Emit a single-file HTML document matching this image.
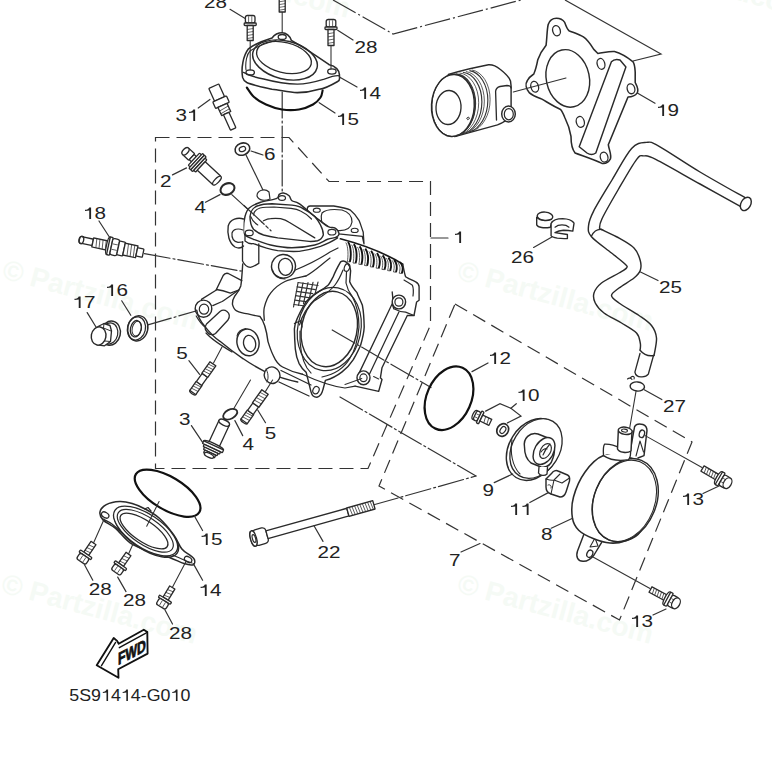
<!DOCTYPE html>
<html><head><meta charset="utf-8"><style>
html,body{margin:0;padding:0;background:#fff;width:772px;height:772px;overflow:hidden}
svg{display:block}
text{font-family:"Liberation Sans",sans-serif;font-size:17px;fill:#222}
</style></head><body>
<svg width="772" height="772" viewBox="0 0 772 772">
<g><text transform="translate(1,278) rotate(15)" style="font-size:28px;font-weight:bold;fill:#f5faf5">© Partzilla.com</text><text transform="translate(456,279) rotate(15)" style="font-size:28px;font-weight:bold;fill:#f5faf5">© Partzilla.com</text><text transform="translate(0,592) rotate(15)" style="font-size:28px;font-weight:bold;fill:#f5faf5">© Partzilla.com</text><text transform="translate(456,592) rotate(15)" style="font-size:28px;font-weight:bold;fill:#f5faf5">© Partzilla.com</text><text transform="translate(153,-34) rotate(15)" style="font-size:28px;font-weight:bold;fill:#f5faf5">© Partzilla.com</text><text transform="translate(610,-34) rotate(15)" style="font-size:28px;font-weight:bold;fill:#f5faf5">© Partzilla.com</text></g>
<path d="M155.5,137.5 L289,137.5 L329,181.5 L430.5,181.5 L430.5,325 L368,468.5 L155.5,468.5 Z" fill="none" stroke="#333" stroke-width="1.20" stroke-linejoin="miter" stroke-dasharray="14 7"/>
<path d="M455,304 L692,442 L619.5,620 L379,486 Z" fill="none" stroke="#333" stroke-width="1.20" stroke-linejoin="miter" stroke-dasharray="14 7"/>
<path d="M333,0 L393,34 L521,0" fill="none" stroke="#333" stroke-width="1.20" stroke-linejoin="miter" stroke-dasharray="26 3 2 3"/>
<path d="M565,0 L661,54 L633,61" fill="none" stroke="#333" stroke-width="1.20" stroke-linejoin="miter" />
<line x1="282.2" y1="12" x2="282.2" y2="37" stroke="#333" stroke-width="1.08" stroke-linecap="round" />
<line x1="282.2" y1="92" x2="282.2" y2="196" stroke="#333" stroke-width="1.20" stroke-linecap="round" stroke-dasharray="26 3 2 3"/>
<path d="M242.6,77.4 C241,68 243,56 248.5,48.8 C255,44 265,40 272,37.9 C275,34 278,32.8 282.2,32.8 C286,32.8 290,36 291.4,40.4 C305,48 318,57 329.3,64.8 C335,66 340,70 339.4,75.8 C340,79 339,81 337.7,81.5 C330,86 322,89 319.2,89.2 C310,92 303,92.6 297.3,92.6 C288,92 280,90 272,89.2 C262,87 252,85 246.8,82.5 C244,81 243,79 242.6,77.4 Z" fill="#fff" stroke="#2a2a2a" stroke-width="1.56" stroke-linejoin="round" stroke-linecap="round" />
<path d="M243.5,72.4 C250,76 258,78 263.7,79 C275,82 288,84 297.3,84.2 C308,84 318,81 324.3,79.1 C330,77 336,75 339.4,75.8" fill="none" stroke="#2a2a2a" stroke-width="1.32" stroke-linejoin="round" stroke-linecap="round" />
<path d="M246,70 C245,62 247,54 250,51 C256,47 266,43 276,40.5" fill="none" stroke="#2a2a2a" stroke-width="1.08" stroke-linejoin="round" stroke-linecap="round" />
<ellipse cx="285" cy="60" rx="33" ry="19" transform="rotate(14 285 60)" fill="none" stroke="#2a2a2a" stroke-width="1.44" />
<ellipse cx="284" cy="57.5" rx="28" ry="15" transform="rotate(14 284 57.5)" fill="none" stroke="#2a2a2a" stroke-width="1.32" />
<ellipse cx="250.2" cy="72.4" rx="4.2" ry="2.6" transform="rotate(0 250.2 72.4)" fill="none" stroke="#2a2a2a" stroke-width="1.32" />
<ellipse cx="331.9" cy="71.5" rx="4.2" ry="2.6" transform="rotate(0 331.9 71.5)" fill="none" stroke="#2a2a2a" stroke-width="1.32" />
<ellipse cx="282.2" cy="37" rx="4" ry="2.5" transform="rotate(0 282.2 37)" fill="none" stroke="#2a2a2a" stroke-width="1.32" />
<g transform="translate(250.2,15.5) rotate(90)" fill="#fff" stroke="#2a2a2a" stroke-width="1.32" stroke-linejoin="round"><rect x="0" y="-4.8" width="7.5" height="9.6" rx="2" ry="2"/><line x1="0.8" y1="-1.60" x2="6.7" y2="-1.60" stroke-width="0.7"/><line x1="0.8" y1="1.60" x2="6.7" y2="1.60" stroke-width="0.7"/><rect x="7.5" y="-6" width="2.5" height="12" rx="0.8"/><rect x="10.0" y="-3" width="15" height="6"/><line x1="13.0" y1="-3" x2="14.0" y2="3" stroke-width="0.7"/><line x1="16.0" y1="-3" x2="17.0" y2="3" stroke-width="0.7"/><line x1="19.0" y1="-3" x2="20.0" y2="3" stroke-width="0.7"/><line x1="22.0" y1="-3" x2="23.0" y2="3" stroke-width="0.7"/></g>
<line x1="250.2" y1="40.5" x2="250.2" y2="70" stroke="#333" stroke-width="1.08" stroke-linecap="round" />
<g transform="translate(331,19.5) rotate(90)" fill="#fff" stroke="#2a2a2a" stroke-width="1.32" stroke-linejoin="round"><rect x="0" y="-4.8" width="7.5" height="9.6" rx="2" ry="2"/><line x1="0.8" y1="-1.60" x2="6.7" y2="-1.60" stroke-width="0.7"/><line x1="0.8" y1="1.60" x2="6.7" y2="1.60" stroke-width="0.7"/><rect x="7.5" y="-6" width="2.5" height="12" rx="0.8"/><rect x="10.0" y="-3" width="16" height="6"/><line x1="13.2" y1="-3" x2="14.2" y2="3" stroke-width="0.7"/><line x1="16.4" y1="-3" x2="17.4" y2="3" stroke-width="0.7"/><line x1="19.6" y1="-3" x2="20.6" y2="3" stroke-width="0.7"/><line x1="22.8" y1="-3" x2="23.8" y2="3" stroke-width="0.7"/></g>
<line x1="331" y1="45.5" x2="331" y2="69" stroke="#333" stroke-width="1.08" stroke-linecap="round" />
<g transform="translate(282.2,-2) rotate(90)" fill="#fff" stroke="#2a2a2a" stroke-width="1.32" stroke-linejoin="round"><rect x="0" y="-3" width="14" height="6"/><line x1="2.8" y1="-3" x2="3.8" y2="3" stroke-width="0.7"/><line x1="5.6" y1="-3" x2="6.6" y2="3" stroke-width="0.7"/><line x1="8.4" y1="-3" x2="9.4" y2="3" stroke-width="0.7"/><line x1="11.2" y1="-3" x2="12.2" y2="3" stroke-width="0.7"/></g>
<path d="M246.80,87.50 C248.00,89.08 250.80,94.17 254.00,97.00 C257.20,99.83 261.33,102.42 266.00,104.50 C270.67,106.58 276.50,108.67 282.00,109.50 C287.50,110.33 293.83,110.33 299.00,109.50 C304.17,108.67 309.42,106.50 313.00,104.50 C316.58,102.50 318.90,99.83 320.50,97.50 C322.10,95.17 322.25,91.67 322.60,90.50" fill="none" stroke="#111" stroke-width="2.10" stroke-linejoin="round" stroke-linecap="round" />
<line x1="230" y1="9.3" x2="245.2" y2="18.5" stroke="#333" stroke-width="1.20" stroke-linecap="round" />
<line x1="337.7" y1="30.3" x2="353" y2="40" stroke="#333" stroke-width="1.20" stroke-linecap="round" />
<line x1="339.4" y1="77" x2="357" y2="87" stroke="#333" stroke-width="1.20" stroke-linecap="round" />
<line x1="319.2" y1="102.7" x2="335" y2="113" stroke="#333" stroke-width="1.20" stroke-linecap="round" />
<g transform="translate(213.8,86.2) rotate(65.6)" fill="#fff" stroke="#2a2a2a" stroke-width="1.32" stroke-linejoin="round"><rect x="0" y="-5.5" width="14" height="11.0" rx="0.8"/><rect x="14" y="-7.5" width="7" height="15.0" rx="0.8"/><rect x="21" y="-5" width="9" height="10"/><line x1="24.0" y1="-5" x2="25.0" y2="5" stroke-width="0.7"/><line x1="27.0" y1="-5" x2="28.0" y2="5" stroke-width="0.7"/><rect x="30" y="-3" width="17" height="6" rx="0.8"/></g>
<line x1="198.2" y1="108" x2="209.9" y2="99.4" stroke="#333" stroke-width="1.20" stroke-linecap="round" />
<g transform="translate(185.5,151.3) rotate(43)" fill="#fff" stroke="#2a2a2a" stroke-width="1.32" stroke-linejoin="round"><rect x="0" y="-4.4" width="8.5" height="8.8" rx="0.8"/><rect x="8.5" y="-3.6" width="3" height="7.2" rx="0.8"/><rect x="11.5" y="-8.3" width="2.5" height="16.6" rx="0.8"/><rect x="14.0" y="-10" width="2.5" height="20" rx="0.8"/><rect x="16.5" y="-10" width="2.5" height="20" rx="0.8"/><rect x="19.0" y="-8.3" width="2.5" height="16.6" rx="0.8"/><rect x="21.5" y="-5.8" width="21.5" height="11.6" rx="0.8"/><ellipse cx="43.0" cy="0" rx="2.2" ry="5.8"/></g>
<ellipse cx="185.5" cy="151.3" rx="2.6" ry="4.4" transform="rotate(43 185.5 151.3)" fill="#fff" stroke="#2a2a2a" stroke-width="1.32" />
<line x1="172.5" y1="174.9" x2="186.5" y2="167.9" stroke="#333" stroke-width="1.20" stroke-linecap="round" />
<ellipse cx="242.4" cy="149.1" rx="7.5" ry="6" transform="rotate(-20 242.4 149.1)" fill="none" stroke="#2a2a2a" stroke-width="1.56" />
<ellipse cx="242.4" cy="149.1" rx="3.3" ry="2.4" transform="rotate(-20 242.4 149.1)" fill="none" stroke="#2a2a2a" stroke-width="1.20" />
<line x1="251" y1="151" x2="263" y2="155" stroke="#333" stroke-width="1.20" stroke-linecap="round" />
<line x1="246" y1="155" x2="263.8" y2="191.7" stroke="#333" stroke-width="1.20" stroke-linecap="round" />
<ellipse cx="227.5" cy="189" rx="7.3" ry="5.5" transform="rotate(-25 227.5 189)" fill="none" stroke="#2a2a2a" stroke-width="2.04" />
<line x1="205.5" y1="202.3" x2="220" y2="194.6" stroke="#333" stroke-width="1.20" stroke-linecap="round" />
<line x1="231.8" y1="194.6" x2="262" y2="222.2" stroke="#333" stroke-width="1.20" stroke-linecap="round" />
<line x1="144.4" y1="253.6" x2="242.5" y2="271.3" stroke="#333" stroke-width="1.20" stroke-linecap="round" stroke-dasharray="26 3 2 3"/>
<g transform="translate(81.5,240) rotate(12.1)" fill="#fff" stroke="#2a2a2a" stroke-width="1.32" stroke-linejoin="round"><ellipse cx="0" cy="0" rx="2.5" ry="3.6"/><rect x="0" y="-3.3" width="11.5" height="6.6" rx="0.8"/><rect x="11.5" y="-4.6" width="16" height="9.2"/><line x1="14.7" y1="-4.6" x2="15.7" y2="4.6" stroke-width="0.7"/><line x1="17.9" y1="-4.6" x2="18.9" y2="4.6" stroke-width="0.7"/><line x1="21.1" y1="-4.6" x2="22.1" y2="4.6" stroke-width="0.7"/><line x1="24.3" y1="-4.6" x2="25.3" y2="4.6" stroke-width="0.7"/><ellipse cx="27.5" cy="0" rx="2" ry="9"/><rect x="27.5" y="-9" width="3" height="18" rx="0.8"/><rect x="30.5" y="-8.3" width="7" height="16.6" rx="2" ry="2"/><line x1="31.3" y1="-2.77" x2="36.7" y2="-2.77" stroke-width="0.7"/><line x1="31.3" y1="2.77" x2="36.7" y2="2.77" stroke-width="0.7"/><rect x="37.5" y="-7" width="6" height="14" rx="0.8"/><rect x="43.5" y="-6" width="13" height="12"/><line x1="46.8" y1="-6" x2="47.8" y2="6" stroke-width="0.7"/><line x1="50.0" y1="-6" x2="51.0" y2="6" stroke-width="0.7"/><line x1="53.2" y1="-6" x2="54.2" y2="6" stroke-width="0.7"/><rect x="56.5" y="-4.2" width="6.5" height="8.4" rx="0.8"/></g>
<ellipse cx="81.5" cy="240" rx="2.2" ry="3.6" transform="rotate(12.1 81.5 240)" fill="#fff" stroke="#2a2a2a" stroke-width="1.32" />
<line x1="99" y1="221" x2="110" y2="238" stroke="#333" stroke-width="1.20" stroke-linecap="round" />
<line x1="146.2" y1="325.3" x2="203" y2="309" stroke="#333" stroke-width="1.20" stroke-linecap="round" stroke-dasharray="26 3 2 3"/>
<ellipse cx="137.8" cy="328.3" rx="10" ry="12.7" transform="rotate(12 137.8 328.3)" fill="#fff" stroke="#2a2a2a" stroke-width="1.44" />
<ellipse cx="136.4" cy="328.4" rx="9" ry="11.7" transform="rotate(12 136.4 328.4)" fill="none" stroke="#2a2a2a" stroke-width="1.20" />
<ellipse cx="135.8" cy="328.7" rx="5.3" ry="8.3" transform="rotate(12 135.8 328.7)" fill="none" stroke="#2a2a2a" stroke-width="1.32" />
<ellipse cx="136.8" cy="328.7" rx="4.6" ry="7.5" transform="rotate(12 136.8 328.7)" fill="none" stroke="#2a2a2a" stroke-width="0.96" />
<line x1="121.7" y1="300.8" x2="130.8" y2="315.3" stroke="#333" stroke-width="1.20" stroke-linecap="round" />
<ellipse cx="110.5" cy="333.2" rx="9.8" ry="12.2" transform="rotate(12 110.5 333.2)" fill="#fff" stroke="#2a2a2a" stroke-width="1.44" />
<ellipse cx="109.5" cy="333.5" rx="8.3" ry="10.6" transform="rotate(12 109.5 333.5)" fill="none" stroke="#2a2a2a" stroke-width="1.20" />
<path d="M98,326.5 L104,323.5 L110,325.5 L111.5,331 L110.5,341.5 L104.5,345.8 L99,345" fill="#fff" stroke="#2a2a2a" stroke-width="1.32" stroke-linejoin="round" stroke-linecap="round" />
<path d="M104,323.5 L103.5,328 M110.5,341.5 L104.5,341 L103.5,328 L111,331" fill="none" stroke="#2a2a2a" stroke-width="0.96" stroke-linejoin="round" stroke-linecap="round" />
<ellipse cx="98.6" cy="336" rx="7.3" ry="9.2" transform="rotate(10 98.6 336)" fill="#fff" stroke="#2a2a2a" stroke-width="1.44" />
<line x1="87.2" y1="312.6" x2="96" y2="327" stroke="#333" stroke-width="1.20" stroke-linecap="round" />
<path d="M243,237 L242.7,267 C240,280 236,292 233.6,303.5 L196.7,310 C198,320 201,324 204.4,325.8 C215,338 235,354 266.6,372.4 C290,380 300,384 306,384 L309,390 C311,395 318,396 322,392 L326,384 C345,380 356,375 362,384 L381,386 L406,316 L419.6,307.9 L417.9,282.6 L404.4,274.2 L402.7,264.1 L364,243.9 L363.2,232.1 L359,220.3 L350.5,210.2 L333.7,206 L310.1,206 L291,199.4 C286,194 278,194 275.5,198 L244.25,215.5 Z" fill="#fff" stroke="none" stroke-width="0.00" stroke-linejoin="round" stroke-linecap="round" />
<path d="M310.1,206 C307,206 306,210 309,213 L338.7,233.8 L362.3,236.3 L364,243.9 M310.1,206 L333.7,206 C340,207 346,208 350.5,210.2 C354,213 357,217 359,220.3 C361,225 362,229 363.2,232.1 L364,243.9" fill="#fff" stroke="#2a2a2a" stroke-width="1.32" stroke-linejoin="round" stroke-linecap="round" />
<path d="M322,213 C326,209 334,209 342,210 C349,212 352,217 352,222 C351,228 346,231 338,230.5 C330,230 323,227 321.5,221 C321,218 321,215 322,213 Z" fill="none" stroke="#2a2a2a" stroke-width="1.20" stroke-linejoin="round" stroke-linecap="round" />
<ellipse cx="316.8" cy="210.2" rx="3.5" ry="2.1" transform="rotate(0 316.8 210.2)" fill="none" stroke="#2a2a2a" stroke-width="1.08" />
<ellipse cx="354.7" cy="230.4" rx="3.5" ry="2.1" transform="rotate(0 354.7 230.4)" fill="none" stroke="#2a2a2a" stroke-width="1.08" />
<path d="M340.4,238.8 C360,244 385,253 402.7,264.1" fill="none" stroke="#1a1a1a" stroke-width="1.68" stroke-linejoin="round" stroke-linecap="round" />
<path d="M348.0,242.0 C351.2,246.0 351.4,257.0 349.8,262.0" fill="none" stroke="#111" stroke-width="1.9"/>
<path d="M345.8,242.5 C348.3,246.0 348.5,257.0 347.2,261.7 L349.8,262.0" fill="none" stroke="#333" stroke-width="0.8"/>
<path d="M353.8,244.2 C357.0,248.2 357.2,258.3 355.6,263.3" fill="none" stroke="#111" stroke-width="1.9"/>
<path d="M351.6,244.7 C354.1,248.2 354.3,258.3 353.0,263.0 L355.6,263.3" fill="none" stroke="#333" stroke-width="0.8"/>
<path d="M359.6,246.4 C362.8,250.4 363.0,259.6 361.4,264.6" fill="none" stroke="#111" stroke-width="1.9"/>
<path d="M357.4,246.9 C359.9,250.4 360.1,259.6 358.8,264.3 L361.4,264.6" fill="none" stroke="#333" stroke-width="0.8"/>
<path d="M365.3,248.7 C368.5,252.7 368.7,260.8 367.1,265.8" fill="none" stroke="#111" stroke-width="1.9"/>
<path d="M363.1,249.2 C365.6,252.7 365.8,260.8 364.5,265.5 L367.1,265.8" fill="none" stroke="#333" stroke-width="0.8"/>
<path d="M371.1,250.9 C374.3,254.9 374.5,262.1 372.9,267.1" fill="none" stroke="#111" stroke-width="1.9"/>
<path d="M368.9,251.4 C371.4,254.9 371.6,262.1 370.3,266.8 L372.9,267.1" fill="none" stroke="#333" stroke-width="0.8"/>
<path d="M376.9,253.1 C380.1,257.1 380.3,263.4 378.7,268.4" fill="none" stroke="#111" stroke-width="1.9"/>
<path d="M374.7,253.6 C377.2,257.1 377.4,263.4 376.1,268.1 L378.7,268.4" fill="none" stroke="#333" stroke-width="0.8"/>
<path d="M382.7,255.3 C385.9,259.3 386.1,264.7 384.5,269.7" fill="none" stroke="#111" stroke-width="1.9"/>
<path d="M380.5,255.8 C383.0,259.3 383.2,264.7 381.9,269.4 L384.5,269.7" fill="none" stroke="#333" stroke-width="0.8"/>
<path d="M388.4,257.6 C391.6,261.6 391.8,265.9 390.2,270.9" fill="none" stroke="#111" stroke-width="1.9"/>
<path d="M386.2,258.1 C388.7,261.6 388.9,265.9 387.6,270.6 L390.2,270.9" fill="none" stroke="#333" stroke-width="0.8"/>
<path d="M394.2,259.8 C397.4,263.8 397.6,267.2 396.0,272.2" fill="none" stroke="#111" stroke-width="1.9"/>
<path d="M392.0,260.3 C394.5,263.8 394.7,267.2 393.4,271.9 L396.0,272.2" fill="none" stroke="#333" stroke-width="0.8"/>
<path d="M400.0,262.0 C403.2,266.0 403.4,268.5 401.8,273.5" fill="none" stroke="#111" stroke-width="1.9"/>
<path d="M397.8,262.5 C400.3,266.0 400.5,268.5 399.2,273.2 L401.8,273.5" fill="none" stroke="#333" stroke-width="0.8"/>
<path d="M245,235 L245,241 C250,245 252,243.6 253.5,243.6 C262,247 270,249.5 277.7,250.7 C285,251.5 292,251.6 299.1,251.4 C306,250.5 314,248.5 320.5,246.4 C328,243.5 333,241 337.6,237.9 L336.2,237.2" fill="#fff" stroke="#2a2a2a" stroke-width="1.32" stroke-linejoin="round" stroke-linecap="round" />
<path d="M276.30,198.70 C279.40,197.40 278.02,195.35 279.20,194.40 C280.38,193.45 281.75,192.77 283.40,193.00 C285.05,193.23 287.67,194.50 289.10,195.80 C290.53,197.10 290.33,199.48 292.00,200.80 C293.67,202.12 295.30,201.08 299.10,203.70 C302.90,206.32 310.05,212.70 314.80,216.50 C319.55,220.30 324.28,224.60 327.60,226.50 C330.92,228.40 332.80,226.72 334.70,227.90 C336.60,229.08 338.75,232.05 339.00,233.60 C339.25,235.15 338.10,236.25 336.20,237.20 C334.30,238.15 331.17,238.00 327.60,239.30 C324.03,240.60 320.73,243.58 314.80,245.00 C308.87,246.42 299.37,247.80 292.00,247.80 C284.63,247.80 277.02,246.42 270.60,245.00 C264.18,243.58 257.77,240.97 253.50,239.30 C249.23,237.63 246.67,236.67 245.00,235.00 C243.33,233.33 243.50,232.38 243.50,229.30 C243.50,226.22 244.05,220.05 245.00,216.50 C245.95,212.95 246.60,210.38 249.20,208.00 C251.80,205.62 256.08,203.75 260.60,202.20 C265.12,200.65 273.20,200.00 276.30,198.70 Z" fill="#fff" stroke="#2a2a2a" stroke-width="1.44" stroke-linejoin="round" stroke-linecap="round" />
<path d="M250,216.5 C250.5,211 254,207 257.8,205.8 C262,204 267,203.7 272,203.7 L292,205.1 C297,205.8 300,206.5 302,208 C307,210.5 311,213 314.8,216.5 C317,219 319,222 320.5,225 C322,228 323.5,232 323.3,235 C322,238.5 320,240 317.6,240.7 C315,241.3 312,241.5 309.1,241.4 L277.7,237.9 C273,237 268,236 263.5,235 C259,233.5 256,231.5 253.5,229.3 C251,226 250,221 250,216.5 Z" fill="none" stroke="#2a2a2a" stroke-width="1.44" stroke-linejoin="round" stroke-linecap="round" />
<path d="M253.5,215 C254,211.5 256.5,209 260,208 C265,207 270,207 274,207 L291,208.3 C295,208.8 298,209.5 300.5,211 C305,213 308.5,216 311.5,219" fill="none" stroke="#2a2a2a" stroke-width="1.20" stroke-linejoin="round" stroke-linecap="round" />
<path d="M263.5,220.8 C266,219.5 268,218.6 270.6,218.6 C274,218.4 277,218.4 280.6,218.6 C284,219.5 286.5,220.5 289.1,222.2 L314.8,237.9" fill="none" stroke="#2a2a2a" stroke-width="1.26" stroke-linejoin="round" stroke-linecap="round" />
<path d="M250.7,216.5 C252,220 254.5,223 257.8,225" fill="none" stroke="#2a2a2a" stroke-width="1.08" stroke-linejoin="round" stroke-linecap="round" />
<ellipse cx="249.2" cy="232.9" rx="4" ry="2.8" transform="rotate(0 249.2 232.9)" fill="none" stroke="#2a2a2a" stroke-width="1.20" />
<ellipse cx="331.9" cy="232.2" rx="4" ry="2.8" transform="rotate(0 331.9 232.2)" fill="none" stroke="#2a2a2a" stroke-width="1.20" />
<ellipse cx="282" cy="198" rx="3.5" ry="2.4" transform="rotate(0 282 198)" fill="none" stroke="#2a2a2a" stroke-width="1.20" />
<path d="M243.5,219 C238,217 230,219 228.2,226 C227,234 229,243 235,247 C238,248.5 241.5,248 243.5,246" fill="#fff" stroke="#2a2a2a" stroke-width="1.38" stroke-linejoin="round" stroke-linecap="round" />
<path d="M243,230 C238,228 233,229 232,233 C231.5,238 234,241.5 238,242.4 L243,242" fill="none" stroke="#2a2a2a" stroke-width="1.20" stroke-linejoin="round" stroke-linecap="round" />
<path d="M257,196 C257,190 265,188 269,192 L270,199 C265,201 259,201 257,196 Z" fill="#fff" stroke="#2a2a2a" stroke-width="1.20" stroke-linejoin="round" stroke-linecap="round" />
<path d="M242.5,241.7 L242.5,261 C244,264 247,267.3 250.3,267.3 C253,267 256,265 258.8,263.4 L258.8,244" fill="none" stroke="#2a2a2a" stroke-width="1.32" stroke-linejoin="round" stroke-linecap="round" />
<path d="M242.7,264 C242.2,272 241.8,280 240.8,285.9 C239,291 236.5,294 234.6,296.3 C232.8,299 232.3,302 232.5,304.6 C233.5,308 235,310 236.6,310.8 C240,312.5 244,313.3 248,313.9 C252,315 257,316 260,316.5 C263,320 266,326 268,341.6 C270,348 272,353 273.5,356 C276,362 279,365 282.6,367 C290,371 296,373 302.5,374.2" fill="none" stroke="#2a2a2a" stroke-width="1.38" stroke-linejoin="round" stroke-linecap="round" />
<path d="M306.00,276.00 C302.50,276.92 290.87,278.70 285.00,281.50 C279.13,284.30 274.25,288.48 270.80,292.80 C267.35,297.12 265.38,302.82 264.30,307.40 C263.22,311.98 264.30,318.15 264.30,320.30" fill="none" stroke="#2a2a2a" stroke-width="1.32" stroke-linejoin="round" stroke-linecap="round" />
<path d="M259,245.4 C265,249 280,252 300,253" fill="none" stroke="#2a2a2a" stroke-width="0.00" stroke-linejoin="round" stroke-linecap="round" />
<ellipse cx="283.5" cy="266.3" rx="12" ry="11.8" transform="rotate(-5 283.5 266.3)" fill="#fff" stroke="#2a2a2a" stroke-width="1.44" />
<ellipse cx="285.5" cy="266.8" rx="7" ry="8.5" transform="rotate(-5 285.5 266.8)" fill="none" stroke="#2a2a2a" stroke-width="1.32" />
<path d="M272.5,270 C274,276 279,279 285,279" fill="none" stroke="#2a2a2a" stroke-width="1.08" stroke-linejoin="round" stroke-linecap="round" />
<path d="M295.3,270 C305,266 318,260 330,252 L338,248" fill="none" stroke="#2a2a2a" stroke-width="1.20" stroke-linejoin="round" stroke-linecap="round" />
<path d="M306,276 C315,271 322,264 330,258" fill="none" stroke="#2a2a2a" stroke-width="1.20" stroke-linejoin="round" stroke-linecap="round" />
<line x1="298.0" y1="283.0" x2="293.5" y2="307.0" stroke="#333" stroke-width="1.20" stroke-linecap="round" />
<line x1="303.0" y1="282.8" x2="298.5" y2="305.3" stroke="#333" stroke-width="1.20" stroke-linecap="round" />
<line x1="308.0" y1="282.6" x2="303.5" y2="303.6" stroke="#333" stroke-width="1.20" stroke-linecap="round" />
<line x1="313.0" y1="282.4" x2="308.5" y2="301.9" stroke="#333" stroke-width="1.20" stroke-linecap="round" />
<line x1="318.0" y1="282.2" x2="313.5" y2="300.2" stroke="#333" stroke-width="1.20" stroke-linecap="round" />
<line x1="298.0" y1="282.5" x2="318.0" y2="285.5" stroke="#333" stroke-width="1.20" stroke-linecap="round" />
<line x1="297.2" y1="286.9" x2="315.4" y2="289.59999999999997" stroke="#333" stroke-width="1.20" stroke-linecap="round" />
<line x1="296.4" y1="291.3" x2="312.79999999999995" y2="293.7" stroke="#333" stroke-width="1.20" stroke-linecap="round" />
<line x1="295.6" y1="295.7" x2="310.20000000000005" y2="297.8" stroke="#333" stroke-width="1.20" stroke-linecap="round" />
<line x1="294.8" y1="300.1" x2="307.6" y2="301.90000000000003" stroke="#333" stroke-width="1.20" stroke-linecap="round" />
<line x1="294.0" y1="304.5" x2="305.0" y2="306.0" stroke="#333" stroke-width="1.20" stroke-linecap="round" />
<path d="M216.4,289.5 L223.2,275.5 C224.5,273.5 226.5,273 228.3,273.5 L241.8,280.7" fill="none" stroke="#2a2a2a" stroke-width="1.38" stroke-linejoin="round" stroke-linecap="round" />
<path d="M216.4,289.5 C221,290 226,291.5 230.4,293.2 L238.7,290" fill="none" stroke="#2a2a2a" stroke-width="1.32" stroke-linejoin="round" stroke-linecap="round" />
<path d="M201.4,299.4 L216.4,290 M212.8,305.6 L222.1,301.5 C226,299 230,296 238.7,290" fill="none" stroke="#2a2a2a" stroke-width="1.32" stroke-linejoin="round" stroke-linecap="round" />
<ellipse cx="203.5" cy="308.7" rx="8.3" ry="8.6" transform="rotate(0 203.5 308.7)" fill="#fff" stroke="#2a2a2a" stroke-width="1.44" />
<ellipse cx="204" cy="309.2" rx="4.7" ry="5" transform="rotate(0 204 309.2)" fill="none" stroke="#2a2a2a" stroke-width="1.20" />
<path d="M207.6,332.5 C205,330 204.5,327 206.5,324 L220,311.5 C222,310 225,310 227,311.5 C229.5,313.5 229.8,317 228,320 L215.5,333.5 C213,335.5 209.5,335 207.6,332.5 Z" fill="#fff" stroke="#2a2a2a" stroke-width="1.32" stroke-linejoin="round" stroke-linecap="round" />
<path d="M196.2,316 C199,321 202,325 205.5,327.4" fill="none" stroke="#2a2a2a" stroke-width="1.20" stroke-linejoin="round" stroke-linecap="round" />
<path d="M196.7,310.2 C198,318 201,322 204.4,325.8 C210,333 215,338 220,341.3 C228,348 236,354 243.3,358.8 C252,365 260,369 266.6,372.4 C278,377 288,380 297.7,382" fill="none" stroke="#2a2a2a" stroke-width="1.38" stroke-linejoin="round" stroke-linecap="round" />
<path d="M206,333 C212,340 222,346 232,352" fill="none" stroke="#2a2a2a" stroke-width="1.20" stroke-linejoin="round" stroke-linecap="round" />
<ellipse cx="248" cy="342.4" rx="11" ry="13.5" transform="rotate(-12 248 342.4)" fill="#fff" stroke="#2a2a2a" stroke-width="1.44" />
<ellipse cx="249.6" cy="343.5" rx="6" ry="8.2" transform="rotate(-12 249.6 343.5)" fill="none" stroke="#2a2a2a" stroke-width="1.32" />
<path d="M237,336 C238,331 242,329 246,328.5" fill="none" stroke="#2a2a2a" stroke-width="1.08" stroke-linejoin="round" stroke-linecap="round" />
<path d="M340.6,261.8 C337,268 335,272 333.4,276.3 C331,281 330,283 328,285.3 C324,289 320,291 317,292.6 C312,296 309,298 306.2,301.7 C301,310 298,316 295.3,323.4 L294.4,328.9 C294.5,336 294.8,342 295.3,348.8 C296,355 297,359 299,363.3 C301,367 303,370 306.2,372.4 L311,391.8 C312,395.5 314.5,397.3 317,397.2 C320,396.8 322,393.5 322.9,389.7 L325.4,380.4 C338,377 348,368 353.3,359.7 C357,353 359,349 360.6,345.2 C363,337 364,332 364.2,327 C364,318 363.5,311 362.4,305.3 C360,299 358,296 357,292.6 C353,288 351,285 349.7,281.7 L350.6,270.8 C350,264 345,259 340.6,261.8 Z" fill="#fff" stroke="#2a2a2a" stroke-width="1.44" stroke-linejoin="round" stroke-linecap="round" />
<path d="M343,270 C341,275 338,281 335,285 C330,292 322,296 314,301 C306,308 302,316 299.5,325 M300,331 C299.5,345 301,358 307,368 L311,373 M322,377 C336,374 345,367 350,358 C356,349 358,338 359,327 C359,315 357,305 352,296 C349,292 347,288 346,283 L346.5,272" fill="none" stroke="#2a2a2a" stroke-width="1.20" stroke-linejoin="round" stroke-linecap="round" />
<ellipse cx="347" cy="267.5" rx="2.6" ry="4" transform="rotate(20 347 267.5)" fill="none" stroke="#2a2a2a" stroke-width="1.20" />
<ellipse cx="316" cy="390.2" rx="3.0" ry="3.8" transform="rotate(25 316 390.2)" fill="none" stroke="#2a2a2a" stroke-width="1.20" />
<ellipse cx="329.3" cy="329" rx="27.7" ry="38" transform="rotate(12 329.3 329)" fill="none" stroke="#2a2a2a" stroke-width="1.44" />
<ellipse cx="329.3" cy="329" rx="31.5" ry="42" transform="rotate(12 329.3 329)" fill="none" stroke="#2a2a2a" stroke-width="1.20" />
<path d="M294.4,323.5 L301,320.5 L302,327" fill="none" stroke="#2a2a2a" stroke-width="1.20" stroke-linejoin="round" stroke-linecap="round" />
<path d="M402.7,264.1 C404,270 404.5,274 405.6,276.7 C409,279 413,280.5 415.7,281.8 C418,283 419.1,285 419.1,286.8 L419.1,300.3 L416.6,302 L414,315.5 L407.3,315.5 L382,367.7 L380.4,377.8 L382,379.5 L378.7,391.3 L355.1,386.2" fill="none" stroke="#2a2a2a" stroke-width="1.38" stroke-linejoin="round" stroke-linecap="round" />
<path d="M404,280.1 C407,282 410,283.5 412.4,285.2 C413.5,288 413.5,292 413,296" fill="none" stroke="#2a2a2a" stroke-width="1.20" stroke-linejoin="round" stroke-linecap="round" />
<path d="M392.2,291.9 L393.8,308.7 L392.2,303.7 L358.5,374.4" fill="none" stroke="#2a2a2a" stroke-width="1.32" stroke-linejoin="round" stroke-linecap="round" />
<path d="M393.8,308.7 C398,311 402,312 405.6,312.1 L414,315.5" fill="none" stroke="#2a2a2a" stroke-width="1.20" stroke-linejoin="round" stroke-linecap="round" />
<path d="M398.9,312.1 L366.9,379.5" fill="none" stroke="#2a2a2a" stroke-width="1.26" stroke-linejoin="round" stroke-linecap="round" />
<ellipse cx="398.9" cy="302" rx="6.7" ry="6.9" transform="rotate(0 398.9 302)" fill="#fff" stroke="#2a2a2a" stroke-width="1.44" />
<ellipse cx="398.9" cy="302" rx="4" ry="4.2" transform="rotate(0 398.9 302)" fill="none" stroke="#2a2a2a" stroke-width="1.20" />
<ellipse cx="363.5" cy="377.8" rx="6.5" ry="6.9" transform="rotate(0 363.5 377.8)" fill="#fff" stroke="#2a2a2a" stroke-width="1.44" />
<ellipse cx="363.5" cy="377.8" rx="3.6" ry="3.9" transform="rotate(0 363.5 377.8)" fill="none" stroke="#2a2a2a" stroke-width="1.20" />
<line x1="361.8" y1="378.6" x2="345" y2="384.5" stroke="#333" stroke-width="1.08" stroke-linecap="round" />
<line x1="373.6" y1="376.5" x2="378.7" y2="379.0" stroke="#333" stroke-width="1.08" stroke-linecap="round" />
<path d="M302.5,374.2 C315,380 330,386 345,388 L355.1,386.2" fill="none" stroke="#2a2a2a" stroke-width="1.20" stroke-linejoin="round" stroke-linecap="round" />
<path d="M281,370.5 L311,385 M279,382 L309,396" fill="none" stroke="#2a2a2a" stroke-width="1.26" stroke-linejoin="round" stroke-linecap="round" />
<ellipse cx="272.1" cy="375.2" rx="7.8" ry="8.3" transform="rotate(-20 272.1 375.2)" fill="#fff" stroke="#2a2a2a" stroke-width="1.38" />
<path d="M266,369 C268,372 269,378 267,382" fill="none" stroke="#2a2a2a" stroke-width="0.96" stroke-linejoin="round" stroke-linecap="round" />
<line x1="332.2" y1="330" x2="431" y2="387.5" stroke="#333" stroke-width="1.20" stroke-linecap="round" stroke-dasharray="26 3 2 3"/>
<line x1="340" y1="397" x2="476" y2="476" stroke="#333" stroke-width="1.20" stroke-linecap="round" stroke-dasharray="26 3 2 3"/>
<line x1="244" y1="205.5" x2="262" y2="222.2" stroke="#333" stroke-width="1.20" stroke-linecap="round" />
<line x1="262" y1="222.2" x2="271" y2="230.8" stroke="#333" stroke-width="1.20" stroke-linecap="round" stroke-dasharray="3 2.5"/>
<g transform="translate(192.8,392.5) rotate(-55)" fill="#fff" stroke="#2a2a2a" stroke-width="1.32" stroke-linejoin="round"><ellipse cx="0" cy="0" rx="1.5" ry="3.6"/><rect x="0" y="-3.6" width="11" height="7.2"/><line x1="2.8" y1="-3.6" x2="3.8" y2="3.6" stroke-width="0.7"/><line x1="5.5" y1="-3.6" x2="6.5" y2="3.6" stroke-width="0.7"/><line x1="8.2" y1="-3.6" x2="9.2" y2="3.6" stroke-width="0.7"/><rect x="11" y="-3.3" width="10" height="6.6" rx="0.8"/><rect x="21" y="-3.6" width="14" height="7.2"/><line x1="23.8" y1="-3.6" x2="24.8" y2="3.6" stroke-width="0.7"/><line x1="26.6" y1="-3.6" x2="27.6" y2="3.6" stroke-width="0.7"/><line x1="29.4" y1="-3.6" x2="30.4" y2="3.6" stroke-width="0.7"/><line x1="32.2" y1="-3.6" x2="33.2" y2="3.6" stroke-width="0.7"/></g>
<line x1="213.5" y1="363" x2="222" y2="347" stroke="#333" stroke-width="1.08" stroke-linecap="round" />
<line x1="188.9" y1="360.7" x2="199.6" y2="374.3" stroke="#333" stroke-width="1.20" stroke-linecap="round" />
<g transform="translate(244.1,421.3) rotate(-54.5)" fill="#fff" stroke="#2a2a2a" stroke-width="1.32" stroke-linejoin="round"><ellipse cx="0" cy="0" rx="1.5" ry="3.9"/><rect x="0" y="-3.9" width="11" height="7.8"/><line x1="2.8" y1="-3.9" x2="3.8" y2="3.9" stroke-width="0.7"/><line x1="5.5" y1="-3.9" x2="6.5" y2="3.9" stroke-width="0.7"/><line x1="8.2" y1="-3.9" x2="9.2" y2="3.9" stroke-width="0.7"/><rect x="11" y="-3.5" width="9" height="7.0" rx="0.8"/><rect x="20" y="-3.9" width="16" height="7.8"/><line x1="23.2" y1="-3.9" x2="24.2" y2="3.9" stroke-width="0.7"/><line x1="26.4" y1="-3.9" x2="27.4" y2="3.9" stroke-width="0.7"/><line x1="29.6" y1="-3.9" x2="30.6" y2="3.9" stroke-width="0.7"/><line x1="32.8" y1="-3.9" x2="33.8" y2="3.9" stroke-width="0.7"/></g>
<line x1="265.5" y1="391.4" x2="272.6" y2="380" stroke="#333" stroke-width="1.08" stroke-linecap="round" />
<line x1="257.7" y1="410" x2="265.5" y2="422.7" stroke="#333" stroke-width="1.20" stroke-linecap="round" />
<line x1="233.4" y1="409.2" x2="250.5" y2="380" stroke="#333" stroke-width="1.08" stroke-linecap="round" />
<ellipse cx="230.2" cy="414.2" rx="7.6" ry="4.6" transform="rotate(-28 230.2 414.2)" fill="none" stroke="#2a2a2a" stroke-width="1.80" />
<line x1="234.9" y1="420.6" x2="242.7" y2="435.6" stroke="#333" stroke-width="1.20" stroke-linecap="round" />
<g transform="translate(224.2,422.7) rotate(115)" fill="#fff" stroke="#2a2a2a" stroke-width="1.32" stroke-linejoin="round"><ellipse cx="0" cy="0" rx="2.5" ry="5.7"/><rect x="0" y="-5.7" width="25" height="11.4" rx="0.8"/><ellipse cx="25" cy="0" rx="2" ry="11"/><rect x="25" y="-11" width="3" height="22" rx="0.8"/><rect x="28" y="-9" width="2.5" height="18" rx="0.8"/><rect x="30.5" y="-7.5" width="2.5" height="15.0" rx="0.8"/><rect x="33.0" y="-6" width="3" height="12" rx="0.8"/><ellipse cx="36.0" cy="0" rx="2" ry="5"/></g>
<ellipse cx="224.2" cy="422.7" rx="2.6" ry="5.7" transform="rotate(115 224.2 422.7)" fill="#fff" stroke="#2a2a2a" stroke-width="1.32" />
<line x1="191.4" y1="425.6" x2="202.8" y2="442.7" stroke="#333" stroke-width="1.20" stroke-linecap="round" />
<ellipse cx="167.6" cy="493.2" rx="37" ry="16.3" transform="rotate(31 167.6 493.2)" fill="none" stroke="#111" stroke-width="2.22" />
<line x1="194.4" y1="516" x2="202.6" y2="530.5" stroke="#333" stroke-width="1.20" stroke-linecap="round" />
<path d="M100.00,511.80 C100.52,509.22 103.02,506.32 106.30,504.60 C109.58,502.88 115.38,501.68 119.70,501.50 C124.02,501.32 128.05,502.30 132.20,503.50 C136.35,504.70 140.12,506.28 144.60,508.70 C149.08,511.12 154.27,513.68 159.10,518.00 C163.93,522.32 169.80,529.42 173.60,534.60 C177.40,539.78 179.13,545.65 181.90,549.10 C184.67,552.55 188.12,553.57 190.20,555.30 C192.28,557.03 193.88,557.93 194.40,559.50 C194.92,561.07 195.03,564.02 193.30,564.70 C191.57,565.38 187.97,564.82 184.00,563.60 C180.03,562.38 175.37,559.47 169.50,557.40 C163.63,555.33 155.37,553.62 148.80,551.20 C142.23,548.78 135.63,546.70 130.10,542.90 C124.57,539.10 120.08,532.20 115.60,528.40 C111.12,524.60 105.80,522.87 103.20,520.10 C100.60,517.33 99.48,514.38 100.00,511.80 Z" fill="#fff" stroke="#2a2a2a" stroke-width="1.56" stroke-linejoin="round" stroke-linecap="round" />
<path d="M103.00,519.00 C104.50,519.83 109.17,522.00 112.00,524.00 C114.83,526.00 116.67,528.33 120.00,531.00 C123.33,533.67 127.00,537.17 132.00,540.00 C137.00,542.83 143.67,545.67 150.00,548.00 C156.33,550.33 164.33,552.00 170.00,554.00 C175.67,556.00 180.33,558.50 184.00,560.00 C187.67,561.50 190.67,562.50 192.00,563.00" fill="none" stroke="#2a2a2a" stroke-width="1.20" stroke-linejoin="round" stroke-linecap="round" />
<ellipse cx="146.5" cy="532.5" rx="37" ry="16.5" transform="rotate(34 146.5 532.5)" fill="none" stroke="#2a2a2a" stroke-width="1.44" />
<ellipse cx="145.6" cy="531" rx="37" ry="16.5" transform="rotate(34 145.6 531)" fill="#fff" stroke="#2a2a2a" stroke-width="1.32" />
<ellipse cx="145.3" cy="530.8" rx="32.5" ry="13.5" transform="rotate(34 145.3 530.8)" fill="none" stroke="#2a2a2a" stroke-width="1.20" />
<ellipse cx="144" cy="531" rx="28" ry="10.5" transform="rotate(34 144 531)" fill="none" stroke="#2a2a2a" stroke-width="1.32" />
<ellipse cx="105.2" cy="515" rx="4" ry="2.6" transform="rotate(30 105.2 515)" fill="none" stroke="#2a2a2a" stroke-width="1.32" />
<ellipse cx="188.1" cy="559.5" rx="4" ry="2.6" transform="rotate(30 188.1 559.5)" fill="none" stroke="#2a2a2a" stroke-width="1.32" />
<path d="M144.5,509 L148,507.5 L151,511" fill="none" stroke="#2a2a2a" stroke-width="1.20" stroke-linejoin="round" stroke-linecap="round" />
<line x1="146.7" y1="526.3" x2="159.1" y2="501.5" stroke="#333" stroke-width="1.08" stroke-linecap="round" />
<g transform="translate(93.5,543) rotate(124)" fill="#fff" stroke="#2a2a2a" stroke-width="1.32" stroke-linejoin="round"><rect x="0" y="-3" width="13" height="6"/><line x1="3.2" y1="-3" x2="4.2" y2="3" stroke-width="0.7"/><line x1="6.5" y1="-3" x2="7.5" y2="3" stroke-width="0.7"/><line x1="9.8" y1="-3" x2="10.8" y2="3" stroke-width="0.7"/><rect x="13" y="-7" width="2.5" height="14" rx="0.8"/><rect x="15.5" y="-5.5" width="7" height="11.0" rx="2" ry="2"/><line x1="16.3" y1="-1.83" x2="21.7" y2="-1.83" stroke-width="0.7"/><line x1="16.3" y1="1.83" x2="21.7" y2="1.83" stroke-width="0.7"/></g>
<line x1="93.5" y1="543" x2="104.2" y2="519" stroke="#333" stroke-width="1.08" stroke-linecap="round" />
<line x1="84.5" y1="564.7" x2="92.8" y2="580.2" stroke="#333" stroke-width="1.20" stroke-linecap="round" />
<g transform="translate(128.5,554) rotate(125)" fill="#fff" stroke="#2a2a2a" stroke-width="1.32" stroke-linejoin="round"><rect x="0" y="-3" width="13" height="6"/><line x1="3.2" y1="-3" x2="4.2" y2="3" stroke-width="0.7"/><line x1="6.5" y1="-3" x2="7.5" y2="3" stroke-width="0.7"/><line x1="9.8" y1="-3" x2="10.8" y2="3" stroke-width="0.7"/><rect x="13" y="-7" width="2.5" height="14" rx="0.8"/><rect x="15.5" y="-5.5" width="7" height="11.0" rx="2" ry="2"/><line x1="16.3" y1="-1.83" x2="21.7" y2="-1.83" stroke-width="0.7"/><line x1="16.3" y1="1.83" x2="21.7" y2="1.83" stroke-width="0.7"/></g>
<line x1="128.5" y1="554" x2="133" y2="544" stroke="#333" stroke-width="1.08" stroke-linecap="round" />
<line x1="117.7" y1="577.1" x2="126" y2="591.6" stroke="#333" stroke-width="1.20" stroke-linecap="round" />
<g transform="translate(172.3,587.5) rotate(121)" fill="#fff" stroke="#2a2a2a" stroke-width="1.32" stroke-linejoin="round"><rect x="0" y="-3" width="13" height="6"/><line x1="3.2" y1="-3" x2="4.2" y2="3" stroke-width="0.7"/><line x1="6.5" y1="-3" x2="7.5" y2="3" stroke-width="0.7"/><line x1="9.8" y1="-3" x2="10.8" y2="3" stroke-width="0.7"/><rect x="13" y="-7" width="2.5" height="14" rx="0.8"/><rect x="15.5" y="-5.5" width="7" height="11.0" rx="2" ry="2"/><line x1="16.3" y1="-1.83" x2="21.7" y2="-1.83" stroke-width="0.7"/><line x1="16.3" y1="1.83" x2="21.7" y2="1.83" stroke-width="0.7"/></g>
<line x1="172.3" y1="587.5" x2="186" y2="561.6" stroke="#333" stroke-width="1.08" stroke-linecap="round" />
<line x1="165" y1="610" x2="172.5" y2="624" stroke="#333" stroke-width="1.20" stroke-linecap="round" />
<line x1="193.3" y1="563.6" x2="202.6" y2="580.2" stroke="#333" stroke-width="1.20" stroke-linecap="round" />
<line x1="373" y1="505" x2="476" y2="476" stroke="#333" stroke-width="1.20" stroke-linecap="round" stroke-dasharray="26 3 2 3"/>
<g transform="translate(253.5,538.5) rotate(-15.6)" fill="#fff" stroke="#2a2a2a" stroke-width="1.32" stroke-linejoin="round"><ellipse cx="0" cy="0" rx="3" ry="8"/><rect x="0" y="-8" width="14" height="16" rx="3.5" ry="3.5"/><rect x="14" y="-4" width="84" height="8" rx="0.8"/><rect x="98" y="-4.3" width="27" height="8.6"/><line x1="100.7" y1="-4.3" x2="101.7" y2="4.3" stroke-width="0.7"/><line x1="103.4" y1="-4.3" x2="104.4" y2="4.3" stroke-width="0.7"/><line x1="106.1" y1="-4.3" x2="107.1" y2="4.3" stroke-width="0.7"/><line x1="108.8" y1="-4.3" x2="109.8" y2="4.3" stroke-width="0.7"/><line x1="111.5" y1="-4.3" x2="112.5" y2="4.3" stroke-width="0.7"/><line x1="114.2" y1="-4.3" x2="115.2" y2="4.3" stroke-width="0.7"/><line x1="116.9" y1="-4.3" x2="117.9" y2="4.3" stroke-width="0.7"/><line x1="119.6" y1="-4.3" x2="120.6" y2="4.3" stroke-width="0.7"/><line x1="122.3" y1="-4.3" x2="123.3" y2="4.3" stroke-width="0.7"/></g>
<ellipse cx="253.5" cy="538.5" rx="3" ry="8" transform="rotate(-15.6 253.5 538.5)" fill="#fff" stroke="#2a2a2a" stroke-width="1.32" />
<ellipse cx="254" cy="538.5" rx="1.6" ry="4" transform="rotate(-15.6 254 538.5)" fill="none" stroke="#2a2a2a" stroke-width="1.20" />
<line x1="314" y1="525.8" x2="323" y2="541.4" stroke="#333" stroke-width="1.20" stroke-linecap="round" />
<path d="M448.3,74.4 C460,71 476,67 488.5,64.7 C493,64.5 497,66.5 500.1,69.2 C505,73 509,77 510.5,80.9 L511.1,86.1 L511.1,112 C510,118 505,122 497.5,124.9 L454.8,136.6 Z" fill="#fff" stroke="#2a2a2a" stroke-width="1.44" stroke-linejoin="round" stroke-linecap="round" />
<ellipse cx="452.9" cy="105.5" rx="21.4" ry="31" transform="rotate(3 452.9 105.5)" fill="#fff" stroke="#2a2a2a" stroke-width="1.44" />
<ellipse cx="453.5" cy="105.3" rx="21.6" ry="31.3" transform="rotate(3 453.5 105.3)" fill="none" stroke="#2a2a2a" stroke-width="0.96" />
<path d="M455.9,73.9 A21.4,31 3 0 1 455.9,135.6" fill="none" stroke="#333" stroke-width="1.15"/>
<path d="M459.4,73.0 A21.4,31 3 0 1 459.4,134.6" fill="none" stroke="#333" stroke-width="0.8"/>
<path d="M462.9,72.2 A21.4,31 3 0 1 462.9,133.7" fill="none" stroke="#333" stroke-width="1.15"/>
<path d="M465.9,71.5 A21.4,31 3 0 1 465.9,132.8" fill="none" stroke="#333" stroke-width="0.8"/>
<path d="M469.4,70.6 A21.4,31 3 0 1 469.4,131.9" fill="none" stroke="#333" stroke-width="1.15"/>
<path d="M471.9,70.0 A21.4,31 3 0 1 471.9,131.2" fill="none" stroke="#333" stroke-width="0.8"/>
<ellipse cx="448.5" cy="107.5" rx="12.5" ry="17" transform="rotate(3 448.5 107.5)" fill="none" stroke="#2a2a2a" stroke-width="1.32" />
<path d="M495.6,91.3 C496,88 498,87 500,86.5 L507,85.5 C509,85.5 511,86 511.1,88 M495.6,91.3 L496.5,120" fill="none" stroke="#2a2a2a" stroke-width="1.32" stroke-linejoin="round" stroke-linecap="round" />
<ellipse cx="508.5" cy="114" rx="6.8" ry="8" transform="rotate(0 508.5 114)" fill="#fff" stroke="#2a2a2a" stroke-width="1.44" />
<ellipse cx="508.8" cy="114.2" rx="4.5" ry="5.6" transform="rotate(0 508.8 114.2)" fill="none" stroke="#2a2a2a" stroke-width="1.20" />
<path d="M467,118 l1.5,-1 l1,1.5 l-1.5,1 z" fill="none" stroke="#2a2a2a" stroke-width="0.96" stroke-linejoin="round" stroke-linecap="round" />
<path d="M548.2,24.5 C550,19 553,18.3 556.5,18.3 C560,18.3 563,20 564.7,22.4 C566,26 567,29 568.9,30.7 C575,33 579,34 583.4,36.9 C588,40 591,45 593.8,49.4 L597.9,53.5 C603,53 609,51 614.5,51.5 C620,53 627,57 633.1,61.8 C635,65 635,69 635.2,72.2 L635.2,82.5 C637,86 639,89 637.3,92.9 C635,96 631,97 628,97 L608.3,144.7 C609,150 612,155 610.3,159.2 C608,163 605,164 602,163.4 C595,160 583,156 575.1,153 C572,149 571,142 571,136.4 C570,130 568,124 565,118 C563,113 562,111 560.6,109.5 C553,106 547,102 541.9,99.1 C537,97 533,96 529.5,92.9 C526,89 525,84 527.4,80.5 C529,77 531,76 533.7,74.2 C536,69 537,64 537.8,59.7 C540,53 543,49 546.1,45.2 C547,38 547,29 548.2,24.5 Z" fill="#fff" stroke="#2a2a2a" stroke-width="1.56" stroke-linejoin="round" stroke-linecap="round" />
<ellipse cx="567.8" cy="78.4" rx="21.5" ry="29" transform="rotate(-12 567.8 78.4)" fill="none" stroke="#2a2a2a" stroke-width="1.44" />
<path d="M611.4,61.8 C614,59 617,59 620,60 L625.9,67 L595.8,153 C593,155 590,155 587,153 L579.2,146.8 Z" fill="none" stroke="#2a2a2a" stroke-width="1.44" stroke-linejoin="round" stroke-linecap="round" />
<ellipse cx="556.5" cy="30.7" rx="3.8" ry="5.2" transform="rotate(-15 556.5 30.7)" fill="none" stroke="#2a2a2a" stroke-width="1.32" />
<ellipse cx="534.7" cy="86.7" rx="3.8" ry="5.5" transform="rotate(-15 534.7 86.7)" fill="none" stroke="#2a2a2a" stroke-width="1.32" />
<ellipse cx="601" cy="63.9" rx="3.8" ry="5.5" transform="rotate(-15 601 63.9)" fill="none" stroke="#2a2a2a" stroke-width="1.32" />
<ellipse cx="631" cy="88.8" rx="3.8" ry="5" transform="rotate(-15 631 88.8)" fill="none" stroke="#2a2a2a" stroke-width="1.32" />
<ellipse cx="580.3" cy="121.9" rx="4" ry="5.5" transform="rotate(-15 580.3 121.9)" fill="none" stroke="#2a2a2a" stroke-width="1.32" />
<ellipse cx="604.1" cy="157.1" rx="3.8" ry="5" transform="rotate(-15 604.1 157.1)" fill="none" stroke="#2a2a2a" stroke-width="1.32" />
<line x1="637.3" y1="92.9" x2="655" y2="103.3" stroke="#333" stroke-width="1.20" stroke-linecap="round" />
<line x1="513.3" y1="92" x2="566" y2="78" stroke="#333" stroke-width="1.08" stroke-linecap="round" />
<path d="M536.7,217.1 L536.7,224.9 C538,227.5 544,228.5 550.3,227.2 L552,222" fill="#fff" stroke="#2a2a2a" stroke-width="1.38" stroke-linejoin="round" stroke-linecap="round" />
<ellipse cx="545" cy="216.3" rx="7.8" ry="4.2" transform="rotate(5 545 216.3)" fill="#fff" stroke="#2a2a2a" stroke-width="1.38" />
<path d="M537.5,218 C540,220.5 546,221.3 551.5,219.5" fill="none" stroke="#2a2a2a" stroke-width="1.08" stroke-linejoin="round" stroke-linecap="round" />
<path d="M551.1,223.3 C553,220 558,218.6 562.7,218.6 C568,218.8 572,220.5 573.6,222.5 L574,223.3 L572.8,231.1 C569,230.4 566,230.3 563.5,230.3 C559,230.6 557,231.5 555,232.6 L567.4,234.5 L567.4,238.5 C562,238.8 557.3,238.1 557.3,238.1 C554,237.5 551.5,236.5 551.1,235.7 Z" fill="#fff" stroke="#2a2a2a" stroke-width="1.38" stroke-linejoin="round" stroke-linecap="round" />
<path d="M555,227.2 C557,225.5 560,224.9 562,224.9 C565,224.9 567.5,225.8 569,227.2" fill="none" stroke="#2a2a2a" stroke-width="1.20" stroke-linejoin="round" stroke-linecap="round" />
<line x1="533.6" y1="247.4" x2="551.9" y2="236.9" stroke="#333" stroke-width="1.20" stroke-linecap="round" />
<path d="M747.30,199.00 C739.42,194.50 714.77,180.82 700.00,172.00 C685.23,163.18 667.63,151.03 658.70,146.10 C649.77,141.17 650.92,142.00 646.40,142.40 C641.88,142.80 637.33,142.23 631.60,148.50 C625.87,154.77 618.35,169.53 612.00,180.00 C605.65,190.47 597.42,203.63 593.50,211.30 C589.58,218.97 588.83,221.76 588.50,226.00 C588.17,230.24 587.67,232.25 591.50,236.75 C595.33,241.25 605.88,248.42 611.50,253.00 C617.12,257.58 622.75,261.75 625.25,264.25 C627.75,266.75 627.54,266.54 626.50,268.00 C625.46,269.46 623.17,270.50 619.00,273.00 C614.83,275.50 605.67,279.67 601.50,283.00 C597.33,286.33 595.04,289.67 594.00,293.00 C592.96,296.33 593.58,299.67 595.25,303.00 C596.92,306.33 599.62,309.67 604.00,313.00 C608.38,316.33 616.08,319.67 621.50,323.00 C626.92,326.33 633.38,329.67 636.50,333.00 C639.62,336.33 639.62,340.29 640.25,343.00 C640.88,345.71 640.25,348.21 640.25,349.25" fill="none" stroke="#2a2a2a" stroke-width="1.44" stroke-linejoin="round" stroke-linecap="round" />
<path d="M744.80,208.80 C737.33,204.67 714.77,192.20 700.00,184.00 C685.23,175.80 665.55,164.28 656.20,159.60 C646.85,154.92 647.18,155.90 643.90,155.90 C640.62,155.90 640.82,153.92 636.50,159.60 C632.18,165.28 623.75,180.15 618.00,190.00 C612.25,199.85 605.07,212.28 602.00,218.70 C598.93,225.12 599.68,226.70 599.60,228.50 C599.52,230.30 598.68,228.12 601.50,229.50 C604.32,230.88 611.08,233.67 616.50,236.75 C621.92,239.83 630.04,244.04 634.00,248.00 C637.96,251.96 639.21,256.75 640.25,260.50 C641.29,264.25 641.29,267.58 640.25,270.50 C639.21,273.42 637.54,275.08 634.00,278.00 C630.46,280.92 622.75,285.08 619.00,288.00 C615.25,290.92 611.50,293.00 611.50,295.50 C611.50,298.00 614.42,299.67 619.00,303.00 C623.58,306.33 633.58,311.75 639.00,315.50 C644.42,319.25 648.58,321.75 651.50,325.50 C654.42,329.25 656.08,333.00 656.50,338.00 C656.92,343.00 654.42,352.58 654.00,355.50" fill="none" stroke="#2a2a2a" stroke-width="1.44" stroke-linejoin="round" stroke-linecap="round" />
<path d="M591.5,236 C594,231 597,229 601.5,229.5" fill="none" stroke="#2a2a2a" stroke-width="1.32" stroke-linejoin="round" stroke-linecap="round" />
<path d="M640,353.5 L634.9,372.1 C635.5,375.5 638,376.8 641,376.8 C644,377 647,376 648.3,374.2 L653.5,355.5" fill="#fff" stroke="#2a2a2a" stroke-width="1.32" stroke-linejoin="round" stroke-linecap="round" />
<path d="M639.8,350 C644,355 649,356.5 654,355.5" fill="none" stroke="#2a2a2a" stroke-width="1.38" stroke-linejoin="round" stroke-linecap="round" />
<ellipse cx="745.8" cy="203.9" rx="4.8" ry="7.2" transform="rotate(30 745.8 203.9)" fill="#fff" stroke="#2a2a2a" stroke-width="1.44" />
<line x1="640.5" y1="272" x2="658" y2="280.5" stroke="#333" stroke-width="1.20" stroke-linecap="round" />
<ellipse cx="637.3" cy="386.5" rx="7.2" ry="4.6" transform="rotate(5 637.3 386.5)" fill="#fff" stroke="#2a2a2a" stroke-width="1.44" />
<path d="M627.5,379 C629,377.5 631,378 632,379.5 M630,378 L632,376.5 C633.5,376 635,377 634,379" fill="none" stroke="#2a2a2a" stroke-width="1.08" stroke-linejoin="round" stroke-linecap="round" />
<line x1="644.2" y1="389.7" x2="661.8" y2="399.6" stroke="#333" stroke-width="1.20" stroke-linecap="round" />
<line x1="636" y1="391.3" x2="629.7" y2="428" stroke="#333" stroke-width="1.08" stroke-linecap="round" />
<ellipse cx="449" cy="398.2" rx="22.2" ry="33.3" transform="rotate(24 449 398.2)" fill="none" stroke="#111" stroke-width="2.22" />
<line x1="472" y1="371.6" x2="488" y2="363" stroke="#333" stroke-width="1.20" stroke-linecap="round" />
<g transform="translate(475,415) rotate(25.5)" fill="#fff" stroke="#2a2a2a" stroke-width="1.32" stroke-linejoin="round"><ellipse cx="0" cy="0" rx="2.2" ry="5"/><rect x="0" y="-5" width="4.5" height="10" rx="2" ry="2"/><line x1="0.8" y1="-1.67" x2="3.7" y2="-1.67" stroke-width="0.7"/><line x1="0.8" y1="1.67" x2="3.7" y2="1.67" stroke-width="0.7"/><rect x="4.5" y="-6.5" width="2.5" height="13.0" rx="0.8"/><rect x="7.0" y="-3.3" width="10" height="6.6"/><line x1="10.3" y1="-3.3" x2="11.3" y2="3.3" stroke-width="0.7"/><line x1="13.7" y1="-3.3" x2="14.7" y2="3.3" stroke-width="0.7"/></g>
<ellipse cx="502.7" cy="430" rx="5.6" ry="6.6" transform="rotate(35 502.7 430)" fill="#fff" stroke="#2a2a2a" stroke-width="1.68" />
<ellipse cx="502.9" cy="430" rx="2.4" ry="3.8" transform="rotate(35 502.9 430)" fill="none" stroke="#2a2a2a" stroke-width="1.20" />
<path d="M485.2,411.4 L500,403.7 L510.9,408.3 L521,416.1 L507,423.1" fill="none" stroke="#333" stroke-width="1.20" stroke-linejoin="miter" />
<line x1="510.9" y1="408.3" x2="516.3" y2="403.7" stroke="#333" stroke-width="1.20" stroke-linecap="round" />
<ellipse cx="533.5" cy="449.5" rx="24.5" ry="33" transform="rotate(32 533.5 449.5)" fill="#fff" stroke="#2a2a2a" stroke-width="1.44" />
<ellipse cx="536" cy="448.5" rx="23.5" ry="32" transform="rotate(32 536 448.5)" fill="#fff" stroke="#2a2a2a" stroke-width="1.32" />
<path d="M512,440 C510,452 512,466 520,474" fill="none" stroke="#2a2a2a" stroke-width="1.08" stroke-linejoin="round" stroke-linecap="round" />
<path d="M524.5,447 C523,438 530,432 538,434 L548,438 C554,441 556,450 553,458 C551,465 547,468 541,467 L531,463 C526,459 524.5,453 524.5,447 Z" fill="#fff" stroke="#2a2a2a" stroke-width="1.44" stroke-linejoin="round" stroke-linecap="round" />
<ellipse cx="544" cy="451" rx="9.5" ry="14.5" transform="rotate(30 544 451)" fill="#fff" stroke="#2a2a2a" stroke-width="1.44" />
<ellipse cx="545.5" cy="451" rx="5" ry="8" transform="rotate(30 545.5 451)" fill="none" stroke="#2a2a2a" stroke-width="1.20" />
<path d="M543,455 C545,450 548,446 550,444 M541,452 C543,449 546,448 547,449" fill="none" stroke="#2a2a2a" stroke-width="1.08" stroke-linejoin="round" stroke-linecap="round" />
<path d="M539,467 L538.5,473 C540,476 545,476 547,474 L547.5,467" fill="#fff" stroke="#2a2a2a" stroke-width="1.32" stroke-linejoin="round" stroke-linecap="round" />
<line x1="494.2" y1="482.6" x2="512.7" y2="474" stroke="#333" stroke-width="1.20" stroke-linecap="round" />
<path d="M546,479 L552,473 C553,471 556,470 558,471 L567.5,475 C569.5,476 570,478 569.5,481 L566,492 C565,495 563,497 560,497 L551,494 C548,493 546,490 546,487 Z" fill="#fff" stroke="#2a2a2a" stroke-width="1.44" stroke-linejoin="round" stroke-linecap="round" />
<path d="M546,479 C549,480 552,481 554,480 L560,474 M554,480 L551,494 M554,480 L562,483 L569.5,478" fill="none" stroke="#2a2a2a" stroke-width="1.08" stroke-linejoin="round" stroke-linecap="round" />
<path d="M548,485 C550,484 552,486 551,488" fill="none" stroke="#2a2a2a" stroke-width="0.96" stroke-linejoin="round" stroke-linecap="round" />
<line x1="529.8" y1="502.5" x2="548.3" y2="492.6" stroke="#333" stroke-width="1.20" stroke-linecap="round" />
<path d="M584,534 L577.5,551 C575.5,557 578,561 583,561.3 C587,561.5 591,559 594,555 L601.5,542.6" fill="#fff" stroke="#2a2a2a" stroke-width="1.44" stroke-linejoin="round" stroke-linecap="round" />
<ellipse cx="589.8" cy="553.8" rx="2.8" ry="3.8" transform="rotate(25 589.8 553.8)" fill="none" stroke="#2a2a2a" stroke-width="1.32" />
<path d="M590,547 L595,538 L598,546 Z" fill="none" stroke="#2a2a2a" stroke-width="1.08" stroke-linejoin="round" stroke-linecap="round" />
<path d="M630,452 L634.6,426.6 C636,424 639,423.5 642.9,424.5 C645.5,425.5 647,428 647,430.7 L644,455.6 L638,458" fill="#fff" stroke="#2a2a2a" stroke-width="1.44" stroke-linejoin="round" stroke-linecap="round" />
<ellipse cx="641.9" cy="433.8" rx="2.6" ry="3.8" transform="rotate(15 641.9 433.8)" fill="none" stroke="#2a2a2a" stroke-width="1.32" />
<path d="M636,456 L640,441 L643.5,452" fill="none" stroke="#2a2a2a" stroke-width="1.08" stroke-linejoin="round" stroke-linecap="round" />
<path d="M603.50,455.60 C596.82,458.13 589.90,465.30 584.90,472.20 C579.90,479.10 575.58,489.40 573.50,497.00 C571.42,504.60 571.53,512.27 572.40,517.80 C573.27,523.33 575.23,526.75 578.70,530.20 C582.17,533.65 587.98,536.37 593.20,538.50 C598.42,540.63 604.70,542.58 610.00,543.00 C615.30,543.42 620.00,542.83 625.00,541.00 C630.00,539.17 636.17,538.00 640.00,532.00 C643.83,526.00 647.17,515.00 648.00,505.00 C648.83,495.00 647.17,479.50 645.00,472.00 C642.83,464.50 638.33,462.50 635.00,460.00 C631.67,457.50 630.25,457.73 625.00,457.00 C619.75,456.27 610.18,453.07 603.50,455.60 Z" fill="#fff" stroke="#2a2a2a" stroke-width="1.56" stroke-linejoin="round" stroke-linecap="round" />
<ellipse cx="625.3" cy="500.2" rx="31" ry="43" transform="rotate(22 625.3 500.2)" fill="#fff" stroke="#2a2a2a" stroke-width="1.44" />
<ellipse cx="624.3" cy="500.8" rx="30.3" ry="42" transform="rotate(22 624.3 500.8)" fill="none" stroke="#2a2a2a" stroke-width="1.08" />
<path d="M603.5,455.6 C603,449 604,445 604.6,444.2 C610,444 616,446 620,448.3 M630.5,450 C631,455 630,458 628.4,459.7 C620,461 610,460 603.5,455.6" fill="#fff" stroke="#2a2a2a" stroke-width="1.32" stroke-linejoin="round" stroke-linecap="round" />
<path d="M618.3,431 L617.5,449 C619,452.5 627,453.5 631,451 L632,431" fill="#fff" stroke="#2a2a2a" stroke-width="1.44" stroke-linejoin="round" stroke-linecap="round" />
<ellipse cx="625.2" cy="430.8" rx="7" ry="3.6" transform="rotate(8 625.2 430.8)" fill="#fff" stroke="#2a2a2a" stroke-width="1.44" />
<ellipse cx="624.5" cy="430.6" rx="3" ry="1.5" transform="rotate(8 624.5 430.6)" fill="none" stroke="#2a2a2a" stroke-width="1.08" />
<line x1="551.2" y1="528.2" x2="572.6" y2="518.2" stroke="#333" stroke-width="1.20" stroke-linecap="round" />
<line x1="645.2" y1="435.6" x2="702" y2="467.5" stroke="#333" stroke-width="1.08" stroke-linecap="round" />
<g transform="translate(702.5,468.5) rotate(30.4)" fill="#fff" stroke="#2a2a2a" stroke-width="1.32" stroke-linejoin="round"><rect x="0" y="-3.1" width="19" height="6.2"/><line x1="2.7" y1="-3.1" x2="3.7" y2="3.1" stroke-width="0.7"/><line x1="5.4" y1="-3.1" x2="6.4" y2="3.1" stroke-width="0.7"/><line x1="8.1" y1="-3.1" x2="9.1" y2="3.1" stroke-width="0.7"/><line x1="10.9" y1="-3.1" x2="11.9" y2="3.1" stroke-width="0.7"/><line x1="13.6" y1="-3.1" x2="14.6" y2="3.1" stroke-width="0.7"/><line x1="16.3" y1="-3.1" x2="17.3" y2="3.1" stroke-width="0.7"/><ellipse cx="19" cy="0" rx="2.5" ry="7.3"/><rect x="19" y="-7.3" width="3" height="14.6" rx="0.8"/><rect x="22" y="-6" width="7" height="12" rx="2" ry="2"/><line x1="22.8" y1="-2.00" x2="28.2" y2="-2.00" stroke-width="0.7"/><line x1="22.8" y1="2.00" x2="28.2" y2="2.00" stroke-width="0.7"/></g>
<ellipse cx="727.51" cy="483.17" rx="3.8" ry="5.8" transform="rotate(30.4 727.51 483.17)" fill="#fff" stroke="#2a2a2a" stroke-width="1.32" />
<line x1="703" y1="493.5" x2="719" y2="486" stroke="#333" stroke-width="1.20" stroke-linecap="round" />
<line x1="593" y1="557" x2="650" y2="588.5" stroke="#333" stroke-width="1.08" stroke-linecap="round" />
<g transform="translate(650.5,589.5) rotate(28.5)" fill="#fff" stroke="#2a2a2a" stroke-width="1.32" stroke-linejoin="round"><rect x="0" y="-3.1" width="19" height="6.2"/><line x1="2.7" y1="-3.1" x2="3.7" y2="3.1" stroke-width="0.7"/><line x1="5.4" y1="-3.1" x2="6.4" y2="3.1" stroke-width="0.7"/><line x1="8.1" y1="-3.1" x2="9.1" y2="3.1" stroke-width="0.7"/><line x1="10.9" y1="-3.1" x2="11.9" y2="3.1" stroke-width="0.7"/><line x1="13.6" y1="-3.1" x2="14.6" y2="3.1" stroke-width="0.7"/><line x1="16.3" y1="-3.1" x2="17.3" y2="3.1" stroke-width="0.7"/><ellipse cx="19" cy="0" rx="2.5" ry="7.3"/><rect x="19" y="-7.3" width="3" height="14.6" rx="0.8"/><rect x="22" y="-6" width="7" height="12" rx="2" ry="2"/><line x1="22.8" y1="-2.00" x2="28.2" y2="-2.00" stroke-width="0.7"/><line x1="22.8" y1="2.00" x2="28.2" y2="2.00" stroke-width="0.7"/></g>
<ellipse cx="675.99" cy="603.34" rx="3.8" ry="5.8" transform="rotate(28.5 675.99 603.34)" fill="#fff" stroke="#2a2a2a" stroke-width="1.32" />
<line x1="653" y1="615" x2="666" y2="609" stroke="#333" stroke-width="1.20" stroke-linecap="round" />
<line x1="461" y1="552" x2="480" y2="543.5" stroke="#333" stroke-width="1.20" stroke-linecap="round" />
<line x1="431" y1="238" x2="448" y2="238" stroke="#333" stroke-width="1.20" stroke-linecap="round" />
<path d="M96.7,665.2 L113.7,638 L117.1,640.9 L118.7,643.7 L143.8,629.7 L147.3,632 L147.6,653.6 L118.2,669.3 L118.5,677.8 Z" fill="#fff" stroke="#111" stroke-width="1.86" stroke-linejoin="round" stroke-linecap="round" />
<path d="M101.5,665.7 L115.6,642.4 M119.3,647.7 L145,633.7 L147.3,632" fill="none" stroke="#111" stroke-width="1.38" stroke-linejoin="round" stroke-linecap="round" />
<text transform="translate(118,665) skewY(-27) scale(0.72,1)" style="font-size:17px;font-weight:bold;fill:#111;stroke:#111;stroke-width:0.8">FWD</text>
<g><text transform="translate(203.97,7.5) scale(1.245,1)" style="font-size:16.6px">2</text><text transform="translate(215.46,7.5) scale(1.245,1)" style="font-size:16.6px">8</text><text transform="translate(354.47,53) scale(1.245,1)" style="font-size:16.6px">2</text><text transform="translate(365.96,53) scale(1.245,1)" style="font-size:16.6px">8</text><path transform="translate(357.93,99) scale(20.667,16.6)" d="M0.305,-0.70 L0.395,-0.70 L0.395,0 L0.305,0 L0.305,-0.515 C0.25,-0.495 0.17,-0.485 0.10,-0.485 L0.10,-0.555 C0.20,-0.565 0.28,-0.615 0.305,-0.70 Z" fill="#222"/><text transform="translate(369.42,99) scale(1.245,1)" style="font-size:16.6px">4</text><path transform="translate(335.93,125) scale(20.667,16.6)" d="M0.305,-0.70 L0.395,-0.70 L0.395,0 L0.305,0 L0.305,-0.515 C0.25,-0.495 0.17,-0.485 0.10,-0.485 L0.10,-0.555 C0.20,-0.565 0.28,-0.615 0.305,-0.70 Z" fill="#222"/><text transform="translate(347.42,125) scale(1.245,1)" style="font-size:16.6px">5</text><text transform="translate(175.47,121) scale(1.245,1)" style="font-size:16.6px">3</text><path transform="translate(186.96,121) scale(20.667,16.6)" d="M0.305,-0.70 L0.395,-0.70 L0.395,0 L0.305,0 L0.305,-0.515 C0.25,-0.495 0.17,-0.485 0.10,-0.485 L0.10,-0.555 C0.20,-0.565 0.28,-0.615 0.305,-0.70 Z" fill="#222"/><text transform="translate(263.97,160) scale(1.245,1)" style="font-size:16.6px">6</text><text transform="translate(159.97,187) scale(1.245,1)" style="font-size:16.6px">2</text><text transform="translate(194.59,213) scale(1.245,1)" style="font-size:16.6px">4</text><path transform="translate(82.93,219) scale(20.667,16.6)" d="M0.305,-0.70 L0.395,-0.70 L0.395,0 L0.305,0 L0.305,-0.515 C0.25,-0.495 0.17,-0.485 0.10,-0.485 L0.10,-0.555 C0.20,-0.565 0.28,-0.615 0.305,-0.70 Z" fill="#222"/><text transform="translate(94.42,219) scale(1.245,1)" style="font-size:16.6px">8</text><path transform="translate(452.93,243) scale(20.667,16.6)" d="M0.305,-0.70 L0.395,-0.70 L0.395,0 L0.305,0 L0.305,-0.515 C0.25,-0.495 0.17,-0.485 0.10,-0.485 L0.10,-0.555 C0.20,-0.565 0.28,-0.615 0.305,-0.70 Z" fill="#222"/><text transform="translate(510.97,263) scale(1.245,1)" style="font-size:16.6px">2</text><text transform="translate(522.46,263) scale(1.245,1)" style="font-size:16.6px">6</text><text transform="translate(658.97,293) scale(1.245,1)" style="font-size:16.6px">2</text><text transform="translate(670.46,293) scale(1.245,1)" style="font-size:16.6px">5</text><path transform="translate(655.93,116) scale(20.667,16.6)" d="M0.305,-0.70 L0.395,-0.70 L0.395,0 L0.305,0 L0.305,-0.515 C0.25,-0.495 0.17,-0.485 0.10,-0.485 L0.10,-0.555 C0.20,-0.565 0.28,-0.615 0.305,-0.70 Z" fill="#222"/><text transform="translate(667.42,116) scale(1.245,1)" style="font-size:16.6px">9</text><path transform="translate(104.93,296) scale(20.667,16.6)" d="M0.305,-0.70 L0.395,-0.70 L0.395,0 L0.305,0 L0.305,-0.515 C0.25,-0.495 0.17,-0.485 0.10,-0.485 L0.10,-0.555 C0.20,-0.565 0.28,-0.615 0.305,-0.70 Z" fill="#222"/><text transform="translate(116.42,296) scale(1.245,1)" style="font-size:16.6px">6</text><path transform="translate(72.43,308) scale(20.667,16.6)" d="M0.305,-0.70 L0.395,-0.70 L0.395,0 L0.305,0 L0.305,-0.515 C0.25,-0.495 0.17,-0.485 0.10,-0.485 L0.10,-0.555 C0.20,-0.565 0.28,-0.615 0.305,-0.70 Z" fill="#222"/><text transform="translate(83.92,308) scale(1.245,1)" style="font-size:16.6px">7</text><text transform="translate(176.17,359) scale(1.245,1)" style="font-size:16.6px">5</text><path transform="translate(487.93,364) scale(20.667,16.6)" d="M0.305,-0.70 L0.395,-0.70 L0.395,0 L0.305,0 L0.305,-0.515 C0.25,-0.495 0.17,-0.485 0.10,-0.485 L0.10,-0.555 C0.20,-0.565 0.28,-0.615 0.305,-0.70 Z" fill="#222"/><text transform="translate(499.42,364) scale(1.245,1)" style="font-size:16.6px">2</text><path transform="translate(516.43,401) scale(20.667,16.6)" d="M0.305,-0.70 L0.395,-0.70 L0.395,0 L0.305,0 L0.305,-0.515 C0.25,-0.495 0.17,-0.485 0.10,-0.485 L0.10,-0.555 C0.20,-0.565 0.28,-0.615 0.305,-0.70 Z" fill="#222"/><text transform="translate(527.92,401) scale(1.245,1)" style="font-size:16.6px">0</text><text transform="translate(662.97,412) scale(1.245,1)" style="font-size:16.6px">2</text><text transform="translate(674.46,412) scale(1.245,1)" style="font-size:16.6px">7</text><text transform="translate(179.07,425) scale(1.245,1)" style="font-size:16.6px">3</text><text transform="translate(264.67,438.5) scale(1.245,1)" style="font-size:16.6px">5</text><text transform="translate(242.59,450) scale(1.245,1)" style="font-size:16.6px">4</text><text transform="translate(482.57,496) scale(1.245,1)" style="font-size:16.6px">9</text><path transform="translate(680.93,505) scale(20.667,16.6)" d="M0.305,-0.70 L0.395,-0.70 L0.395,0 L0.305,0 L0.305,-0.515 C0.25,-0.495 0.17,-0.485 0.10,-0.485 L0.10,-0.555 C0.20,-0.565 0.28,-0.615 0.305,-0.70 Z" fill="#222"/><text transform="translate(692.42,505) scale(1.245,1)" style="font-size:16.6px">3</text><path transform="translate(508.93,515) scale(20.667,16.6)" d="M0.305,-0.70 L0.395,-0.70 L0.395,0 L0.305,0 L0.305,-0.515 C0.25,-0.495 0.17,-0.485 0.10,-0.485 L0.10,-0.555 C0.20,-0.565 0.28,-0.615 0.305,-0.70 Z" fill="#222"/><path transform="translate(520.42,515) scale(20.667,16.6)" d="M0.305,-0.70 L0.395,-0.70 L0.395,0 L0.305,0 L0.305,-0.515 C0.25,-0.495 0.17,-0.485 0.10,-0.485 L0.10,-0.555 C0.20,-0.565 0.28,-0.615 0.305,-0.70 Z" fill="#222"/><text transform="translate(540.97,540) scale(1.245,1)" style="font-size:16.6px">8</text><path transform="translate(199.53,545) scale(20.667,16.6)" d="M0.305,-0.70 L0.395,-0.70 L0.395,0 L0.305,0 L0.305,-0.515 C0.25,-0.495 0.17,-0.485 0.10,-0.485 L0.10,-0.555 C0.20,-0.565 0.28,-0.615 0.305,-0.70 Z" fill="#222"/><text transform="translate(211.02,545) scale(1.245,1)" style="font-size:16.6px">5</text><text transform="translate(317.57,558) scale(1.245,1)" style="font-size:16.6px">2</text><text transform="translate(329.06,558) scale(1.245,1)" style="font-size:16.6px">2</text><text transform="translate(448.97,566) scale(1.245,1)" style="font-size:16.6px">7</text><path transform="translate(198.53,596) scale(20.667,16.6)" d="M0.305,-0.70 L0.395,-0.70 L0.395,0 L0.305,0 L0.305,-0.515 C0.25,-0.495 0.17,-0.485 0.10,-0.485 L0.10,-0.555 C0.20,-0.565 0.28,-0.615 0.305,-0.70 Z" fill="#222"/><text transform="translate(210.02,596) scale(1.245,1)" style="font-size:16.6px">4</text><text transform="translate(88.67,595) scale(1.245,1)" style="font-size:16.6px">2</text><text transform="translate(100.16,595) scale(1.245,1)" style="font-size:16.6px">8</text><text transform="translate(122.97,606) scale(1.245,1)" style="font-size:16.6px">2</text><text transform="translate(134.46,606) scale(1.245,1)" style="font-size:16.6px">8</text><text transform="translate(168.97,639) scale(1.245,1)" style="font-size:16.6px">2</text><text transform="translate(180.46,639) scale(1.245,1)" style="font-size:16.6px">8</text><path transform="translate(629.93,627) scale(20.667,16.6)" d="M0.305,-0.70 L0.395,-0.70 L0.395,0 L0.305,0 L0.305,-0.515 C0.25,-0.495 0.17,-0.485 0.10,-0.485 L0.10,-0.555 C0.20,-0.565 0.28,-0.615 0.305,-0.70 Z" fill="#222"/><text transform="translate(641.42,627) scale(1.245,1)" style="font-size:16.6px">3</text><text transform="translate(69.30,701) scale(1.088,1)" style="font-size:16.4px">5</text><text transform="translate(79.22,701) scale(1.088,1)" style="font-size:16.4px">S</text><text transform="translate(91.12,701) scale(1.088,1)" style="font-size:16.4px">9</text><path transform="translate(101.04,701) scale(17.843,16.4)" d="M0.305,-0.70 L0.395,-0.70 L0.395,0 L0.305,0 L0.305,-0.515 C0.25,-0.495 0.17,-0.485 0.10,-0.485 L0.10,-0.555 C0.20,-0.565 0.28,-0.615 0.305,-0.70 Z" fill="#222"/><text transform="translate(110.96,701) scale(1.088,1)" style="font-size:16.4px">4</text><path transform="translate(120.88,701) scale(17.843,16.4)" d="M0.305,-0.70 L0.395,-0.70 L0.395,0 L0.305,0 L0.305,-0.515 C0.25,-0.495 0.17,-0.485 0.10,-0.485 L0.10,-0.555 C0.20,-0.565 0.28,-0.615 0.305,-0.70 Z" fill="#222"/><text transform="translate(130.81,701) scale(1.088,1)" style="font-size:16.4px">4</text><text transform="translate(140.73,701) scale(1.088,1)" style="font-size:16.4px">-</text><text transform="translate(146.67,701) scale(1.088,1)" style="font-size:16.4px">G</text><text transform="translate(160.55,701) scale(1.088,1)" style="font-size:16.4px">0</text><path transform="translate(170.47,701) scale(17.843,16.4)" d="M0.305,-0.70 L0.395,-0.70 L0.395,0 L0.305,0 L0.305,-0.515 C0.25,-0.495 0.17,-0.485 0.10,-0.485 L0.10,-0.555 C0.20,-0.565 0.28,-0.615 0.305,-0.70 Z" fill="#222"/><text transform="translate(180.39,701) scale(1.088,1)" style="font-size:16.4px">0</text></g>
</svg></body></html>
